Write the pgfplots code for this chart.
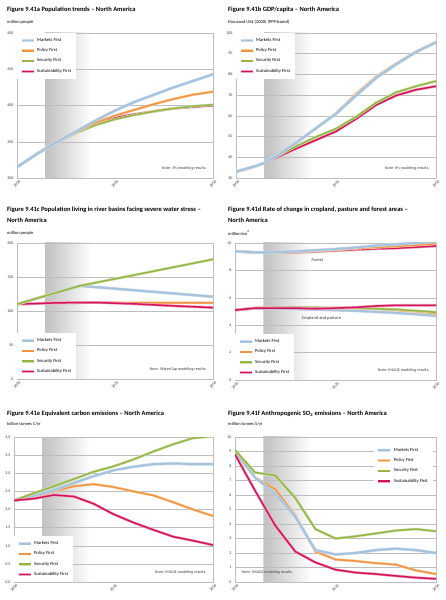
\documentclass[border=0pt]{standalone}
\usepackage{pgfplots}
\pgfplotsset{compat=1.18}
\usepackage{fontspec}
\setmainfont{Carlito}
\definecolor{mkc}{HTML}{A6C3DD}
\definecolor{plc}{HTML}{F0943F}
\definecolor{sec}{HTML}{95B645}
\definecolor{suc}{HTML}{D4145A}
\definecolor{gridc}{HTML}{BDBDBD}
\pgfdeclarehorizontalshading{gshade}{100bp}{color(0bp)=(white); color(31.9bp)=(white); color(32bp)=(gray!48); color(34bp)=(gray!42); color(44bp)=(white); color(100bp)=(white)}
\newcommand{\tfont}{\fontsize{6.5}{7}\selectfont\bfseries}
\newcommand{\ufont}{\fontsize{4.5}{5}\selectfont}
\newcommand{\nfont}{\fontsize{4.1}{4.5}\selectfont}
\tikzset{
  mk/.style={draw=mkc, line width=1.9pt, preaction={draw=mkc!60, line width=3.0pt}},
  pl/.style={draw=plc, line width=1.5pt, preaction={draw=plc!45, line width=2.7pt}},
  se/.style={draw=sec, line width=1.5pt, preaction={draw=sec!45, line width=2.7pt}},
  su/.style={draw=suc, line width=1.5pt, preaction={draw=suc!40, line width=2.7pt}},
}
\pgfplotsset{
  panel/.style={
    scale only axis, anchor=south west, clip=true,
    axis background/.style={shading=gshade},
    xmin=2000, xmax=2050, xtick={2000,2025,2050}, xticklabels={2000,2025,2050},
    axis line style={draw=gridc, line width=0.5pt},
    ymajorgrids, grid style={draw=gridc, line width=0.45pt},
    major tick length=0pt,
    tick label style={font=\fontsize{4.0}{4.2}\selectfont, text=black!80},
    /pgf/number format/assume math mode=true,
    x tick label style={yshift=-6pt, rotate=45, anchor=center},
    legend cell align=left,
    legend style={draw=none, fill=white, font=\fontsize{4.6}{5}\selectfont,
      inner xsep=3pt, inner ysep=3pt, row sep=1.6pt},
    legend image code/.code={\draw[##1] (0pt,0pt) -- (12pt,0pt);},
    no markers,
  },
}
\newcommand{\legimgs}{%
  \addlegendimage{mk}\addlegendentry{Markets First}
  \addlegendimage{pl}\addlegendentry{Policy First}
  \addlegendimage{se}\addlegendentry{Security First}
  \addlegendimage{su}\addlegendentry{Sustainability First}}
\begin{document}
\begin{tikzpicture}
\path[use as bounding box] (0pt,0pt) rectangle (446pt,600pt);
% titles
\node[anchor=west, inner sep=0pt, font=\tfont] at (7pt,590pt) {Figure 9.41a Population trends – North America};
\node[anchor=west, inner sep=0pt, font=\ufont] at (7pt,578pt) {million people};
\node[anchor=west, inner sep=0pt, font=\tfont] at (228pt,590pt) {Figure 9.41b GDP/capita – North America};
\node[anchor=west, inner sep=0pt, font=\ufont] at (228pt,578pt) {thousand US\$ (2000) (PPP-based)};
\node[anchor=west, inner sep=0pt, font=\tfont] at (7pt,390pt) {Figure 9.41c Population living in river basins facing severe water stress –};
\node[anchor=west, inner sep=0pt, font=\tfont] at (7pt,380pt) {North America};
\node[anchor=west, inner sep=0pt, font=\ufont] at (7pt,367pt) {million people};
\node[anchor=west, inner sep=0pt, font=\tfont] at (228pt,390pt) {Figure 9.41d Rate of change in cropland, pasture and forest areas –};
\node[anchor=west, inner sep=0pt, font=\tfont] at (228pt,380pt) {North America};
\node[anchor=west, inner sep=0pt, font=\ufont] at (228pt,367pt) {million km\textsuperscript{2}};
\node[anchor=west, inner sep=0pt, font=\tfont] at (7pt,186pt) {Figure 9.41e Equivalent carbon emissions – North America};
\node[anchor=west, inner sep=0pt, font=\ufont] at (7pt,176pt) {billion tonnes C/yr};
\node[anchor=west, inner sep=0pt, font=\tfont] at (228pt,186pt) {Figure 9.41f Anthropogenic SO\textsubscript{2} emissions – North America};
\node[anchor=west, inner sep=0pt, font=\ufont] at (228pt,176pt) {million tonnes S/yr};

% (a)
\begin{axis}[panel, at={(17pt,422pt)}, width=196pt, height=145pt,
  ymin=300, ymax=500, ytick={300,350,400,450,500},
  legend style={at={(0,1)}, anchor=north west}]
\legimgs
\addplot[su, forget plot] coordinates {(2000,315)(2005,333)(2010,349)(2015,362)(2020,374)(2025,383)(2030,388)(2035,392)(2040,396)(2045,398)(2050,400)};
\addplot[se, forget plot] coordinates {(2000,315)(2005,333)(2010,349)(2015,362)(2020,373)(2025,381)(2030,387)(2035,392)(2040,396)(2045,399)(2050,401)};
\addplot[pl, forget plot] coordinates {(2000,315)(2005,333)(2010,349)(2015,363)(2020,376)(2025,386)(2030,394)(2035,402)(2040,409)(2045,415)(2050,419)};
\addplot[mk, forget plot] coordinates {(2000,315)(2005,333)(2010,349)(2015,364)(2020,379)(2025,393)(2030,405)(2035,415)(2040,425)(2045,434)(2050,443)};
\node[anchor=south east, font=\nfont, text=black!75] at (rel axis cs:0.985,0.03) {Note: IFs modeling results.};
\end{axis}

% (b)
\begin{axis}[panel, at={(236pt,422pt)}, width=200pt, height=145pt,
  ymin=30, ymax=100, ytick={30,40,...,100},
  legend style={at={(0,1)}, anchor=north west}]
\legimgs
\addplot[su, forget plot] coordinates {(2000,33)(2005,35.8)(2007,37.2)(2010,39.8)(2015,44.2)(2020,48.3)(2025,52.5)(2030,58.5)(2035,65.2)(2040,69.8)(2045,72.6)(2050,74.3)};
\addplot[se, forget plot] coordinates {(2000,33)(2005,35.8)(2007,37.2)(2010,40.3)(2015,45.3)(2020,49.8)(2025,53.8)(2030,59.5)(2035,66.3)(2040,71.3)(2045,74.3)(2050,76.8)};
\addplot[pl, forget plot] coordinates {(2000,33)(2005,35.8)(2007,37.2)(2010,40.5)(2015,47)(2020,54)(2025,61.2)(2030,70.5)(2035,78.8)(2040,85.2)(2045,91)(2050,95.5)};
\addplot[mk, forget plot] coordinates {(2000,33)(2005,35.8)(2007,37.2)(2010,40.5)(2015,47)(2020,54)(2025,61)(2030,69.8)(2035,78.2)(2040,84.8)(2045,90.8)(2050,95.5)};
\node[anchor=south east, font=\nfont, text=black!75] at (rel axis cs:0.985,0.03) {Note: IFs modeling results.};
\end{axis}

% (c)
\begin{axis}[panel, at={(17pt,221pt)}, width=196pt, height=136pt,
  ymin=0, ymax=200, ytick={0,50,...,200},
  legend style={at={(0,0)}, anchor=south west}]
\legimgs
\addplot[pl, forget plot] coordinates {(2000,110)(2010,112)(2020,112.5)(2030,112)(2040,112)(2050,112)};
\addplot[su, forget plot] coordinates {(2000,110)(2010,112)(2020,112.5)(2030,110.5)(2040,107.5)(2050,105)};
\addplot[mk, forget plot] coordinates {(2000,110)(2016,137)(2030,130.5)(2050,121)};
\addplot[se, forget plot] coordinates {(2000,110)(2016,137)(2030,153)(2050,176)};
\node[anchor=south east, font=\nfont, text=black!75] at (rel axis cs:0.985,0.03) {Note: WaterGap modeling results.};
\end{axis}

% (d)
\begin{axis}[panel, at={(235pt,220pt)}, width=201pt, height=137pt,
  ymin=0, ymax=10, ytick={0,2,...,10},
  legend style={at={(0,0)}, anchor=south west}]
\legimgs
\addplot[se, forget plot] coordinates {(2000,9.4)(2005,9.3)(2010,9.25)(2015,9.3)(2020,9.35)(2025,9.45)(2030,9.5)(2035,9.6)(2040,9.65)(2045,9.72)(2050,9.8)};
\addplot[su, forget plot] coordinates {(2000,9.4)(2005,9.3)(2010,9.3)(2015,9.3)(2020,9.38)(2025,9.45)(2030,9.52)(2035,9.58)(2040,9.62)(2045,9.7)(2050,9.78)};
\addplot[pl, forget plot] coordinates {(2000,9.4)(2005,9.3)(2010,9.3)(2015,9.33)(2020,9.42)(2025,9.5)(2030,9.6)(2035,9.68)(2040,9.75)(2045,9.85)(2050,9.95)};
\addplot[mk, forget plot] coordinates {(2000,9.4)(2005,9.32)(2010,9.32)(2015,9.38)(2020,9.47)(2025,9.56)(2030,9.67)(2035,9.8)(2040,9.9)(2045,10.0)(2050,10.1)};
\addplot[mk, forget plot] coordinates {(2000,5.1)(2005,5.22)(2010,5.22)(2015,5.18)(2020,5.14)(2025,5.1)(2030,5.05)(2035,4.98)(2040,4.9)(2045,4.8)(2050,4.68)};
\addplot[pl, forget plot] coordinates {(2000,5.1)(2005,5.25)(2010,5.28)(2015,5.28)(2020,5.25)(2025,5.25)(2030,5.25)(2035,5.2)(2040,5.1)(2045,5.0)(2050,4.85)};
\addplot[se, forget plot] coordinates {(2000,5.1)(2005,5.25)(2010,5.3)(2015,5.3)(2020,5.3)(2025,5.25)(2030,5.25)(2035,5.2)(2040,5.15)(2045,5.05)(2050,4.95)};
\addplot[su, forget plot] coordinates {(2000,5.1)(2005,5.25)(2010,5.25)(2015,5.25)(2020,5.2)(2025,5.25)(2030,5.3)(2035,5.4)(2040,5.45)(2045,5.45)(2050,5.45)};
\node[font=\ufont, text=black!80] at (axis cs:2020.5,8.75) {Forest};
\node[font=\ufont, text=black!80] at (axis cs:2021.5,4.5) {Cropland and pasture};
\node[anchor=south east, font=\nfont, text=black!75] at (rel axis cs:0.985,0.03) {Note: IMAGE modeling results.};
\end{axis}

% (e)
\begin{axis}[panel, at={(14pt,18pt)}, width=199pt, height=145pt,
  ymin=0, ymax=4, ytick={0,0.5,...,4},
  yticklabel style={/pgf/number format/.cd, fixed, fixed zerofill, precision=1},
  legend style={at={(0,0)}, anchor=south west}]
\legimgs
\addplot[pl, forget plot] coordinates {(2000,2.25)(2005,2.35)(2010,2.5)(2015,2.64)(2020,2.7)(2025,2.62)(2030,2.5)(2035,2.39)(2040,2.2)(2045,2.0)(2050,1.82)};
\addplot[mk, forget plot] coordinates {(2000,2.25)(2005,2.38)(2010,2.53)(2015,2.73)(2020,2.92)(2025,3.08)(2030,3.18)(2035,3.25)(2040,3.27)(2045,3.25)(2050,3.25)};
\addplot[se, forget plot] coordinates {(2000,2.25)(2005,2.45)(2010,2.64)(2015,2.84)(2020,3.04)(2025,3.19)(2030,3.38)(2035,3.6)(2040,3.8)(2045,3.97)(2050,4.02)};
\addplot[su, forget plot] coordinates {(2000,2.25)(2005,2.3)(2010,2.4)(2015,2.36)(2020,2.16)(2025,1.87)(2030,1.64)(2035,1.44)(2040,1.25)(2045,1.14)(2050,1.02)};
\node[anchor=south east, font=\nfont, text=black!75] at (rel axis cs:0.985,0.03) {Note: IMAGE modeling results.};
\end{axis}

% (f)
\begin{axis}[panel, at={(235pt,18pt)}, width=201pt, height=145pt,
  ymin=0, ymax=10, ytick={0,1,...,10},
  legend style={at={(0.985,0.96)}, anchor=north east}]
\legimgs
\addplot[pl, forget plot] coordinates {(2000,9.0)(2005,7.2)(2010,6.4)(2015,4.6)(2020,2.1)(2025,1.55)(2030,1.45)(2035,1.3)(2040,1.2)(2045,0.8)(2050,0.55)};
\addplot[mk, forget plot] coordinates {(2000,9.0)(2005,7.2)(2010,6.1)(2015,4.5)(2020,2.2)(2025,1.9)(2030,2.0)(2035,2.2)(2040,2.3)(2045,2.2)(2050,2.0)};
\addplot[se, forget plot] coordinates {(2000,9.1)(2005,7.55)(2010,7.35)(2015,5.8)(2020,3.65)(2025,3.0)(2030,3.15)(2035,3.35)(2040,3.55)(2045,3.65)(2050,3.5)};
\addplot[su, forget plot] coordinates {(2000,8.8)(2005,6.3)(2010,3.9)(2015,2.1)(2020,1.35)(2025,0.85)(2030,0.65)(2035,0.55)(2040,0.42)(2045,0.3)(2050,0.22)};
\node[anchor=south west, font=\nfont, text=black!75] at (rel axis cs:0.015,0.03) {Note: IMAGE modeling results.};
\end{axis}
\end{tikzpicture}
\end{document}
